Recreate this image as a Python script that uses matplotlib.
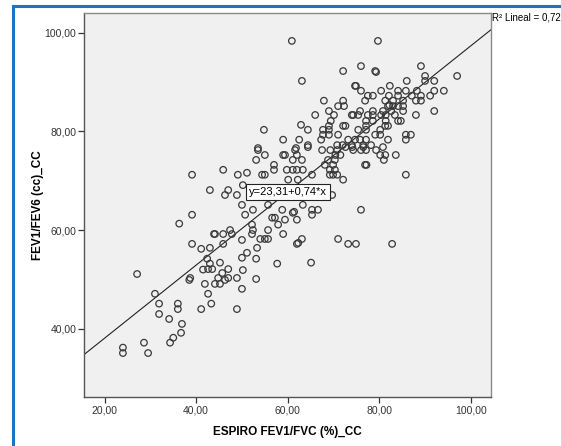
import matplotlib
matplotlib.use("Agg")
import matplotlib.pyplot as plt
from matplotlib.lines import Line2D

plt.rcParams['font.family'] = ['Liberation Sans', 'DejaVu Sans']

# datos (ESPIRO FEV1/FVC, FEV1/FEV6)
espiro_x = [
    60.9, 72.1, 63.1, 74.7, 67.9, 72.1, 71.0, 72.3, 69.0, 70.1, 66.0, 74.0, 69.4, 62.9, 64.4, 54.8,
    69.0, 72.1, 72.6, 67.7, 69.0, 67.7, 69.0, 71.0, 59.0, 62.5, 64.4, 67.3, 70.8, 72.0, 74.0, 73.2,
    53.5, 61.8,
    79.7, 76.0, 79.1, 79.3, 89.1, 97.0, 90.0, 90.0, 92.0, 86.0, 74.9, 82.3,
    76.0, 80.4, 84.1, 85.8, 88.2, 92.0, 94.1,
    77.5, 78.6, 82.1, 84.1, 87.1, 89.1, 91.1,
    76.9, 81.3, 83.0, 85.2, 88.0, 89.1,
    81.9, 83.0, 84.1, 85.2, 82.2,
    75.8, 78.6, 80.8, 82.6, 85.2, 92.0, 88.0,
    74.3, 75.4, 77.5, 78.6, 80.4, 81.4, 83.4,
    77.1, 78.6, 81.4, 84.1, 84.7,
    77.1, 81.3, 81.9,
    75.4, 77.1, 80.2,
    79.1, 80.2, 85.8, 86.9, 85.8,
    74.7, 75.8, 77.1, 81.9,
    76.5, 78.2,
    74.3, 76.0, 77.1, 79.3, 76.5, 80.8, 80.2, 81.3, 83.6, 81.0, 76.9, 77.2, 85.8, 76.0, 74.9, 82.8,
    53.5, 55.0, 53.1, 59.0, 59.4, 61.6, 62.0, 64.4, 63.1, 61.1, 67.5, 69.3, 70.8, 72.6, 74.1, 71.5,
    70.4, 68.8, 70.3, 68.1, 69.2, 69.9, 70.3, 70.8, 69.2, 69.9, 72.1, 45.9, 49.1, 51.1, 54.4, 55.0,
    57.0, 57.0, 59.8, 61.1, 62.0, 63.3, 60.1, 62.2, 65.3, 47.0, 50.2, 46.3, 48.9, 69.7, 50.0, 52.4,
    55.7, 63.3, 65.3, 66.6, 58.8, 61.1, 61.4, 50.7, 56.6, 57.2, 59.4, 62.0, 65.3, 52.2, 57.9, 47.4,
    52.4, 55.7, 44.1, 45.9, 47.8, 52.2, 50.0, 59.0, 54.0, 55.0, 55.7, 45.9, 62.0, 62.3, 63.1, 71.0,
    73.2, 53.3, 51.1, 50.0, 53.1, 45.2, 47.0, 57.7, 65.1, 50.2, 45.7, 47.0, 44.8, 48.9,
    39.1, 43.0, 39.1, 36.3, 43.9, 39.1, 41.1, 43.0, 42.4, 43.0, 41.5, 42.6, 43.5, 27.1, 38.7,
    38.5, 41.9, 44.1, 31.0, 42.6, 31.9, 36.0, 36.0, 43.3, 41.1, 31.9, 34.1, 36.9, 35.0, 34.3, 36.7,
    28.6, 24.0, 24.0, 29.5,
    45.2, 46.3, 53.1, 50.0, 48.9,
]
fev_y = [
    98.3, 92.2, 90.2, 89.2, 86.2, 86.2, 85.1, 85.1, 84.1, 83.3, 83.3, 83.3, 82.1, 81.3, 80.3, 80.3,
    81.1, 81.1, 81.1, 80.3, 80.3, 79.3, 79.3, 79.3, 78.3, 78.3, 77.2, 78.3, 77.2, 77.2, 77.2, 78.3,
    76.6, 76.6,
    98.3, 93.2, 92.2, 92.0, 93.2, 91.2, 91.2, 90.2, 90.2, 90.2, 89.2, 89.2,
    88.2, 88.2, 88.2, 88.2, 88.2, 88.2, 88.2,
    87.2, 87.2, 87.2, 87.2, 87.2, 87.2, 87.2,
    86.2, 86.2, 86.2, 86.2, 86.2, 86.2,
    85.1, 85.1, 85.1, 85.1, 85.3,
    84.1, 84.1, 84.1, 84.1, 84.1, 84.1, 83.3,
    83.3, 83.3, 83.3, 83.3, 83.3, 83.3, 83.3,
    82.1, 82.1, 82.1, 82.1, 82.1,
    81.1, 81.1, 81.1,
    80.3, 80.3, 80.3,
    79.3, 79.3, 79.3, 79.3, 78.3,
    78.3, 78.3, 78.3, 78.3,
    77.2, 77.2,
    76.2, 76.2, 76.2, 76.2, 76.8, 76.8, 75.2, 75.2, 75.2, 74.2, 73.2, 73.2, 71.2, 64.1, 57.2, 57.2,
    76.2, 75.2, 74.2, 75.2, 75.2, 76.2, 75.2, 76.8, 74.2, 74.2, 76.2, 76.2, 76.2, 76.8, 76.8, 75.2,
    75.2, 74.2, 74.2, 73.2, 72.2, 73.2, 72.2, 71.2, 71.2, 71.2, 70.2, 72.2, 71.2, 71.6, 71.2, 71.2,
    73.2, 72.2, 72.2, 72.2, 72.2, 72.2, 70.2, 70.2, 71.2, 68.1, 69.1, 67.1, 67.1, 67.1, 65.1, 64.1,
    65.1, 65.1, 64.1, 64.1, 64.1, 63.5, 63.7, 63.1, 62.5, 62.5, 62.1, 62.1, 63.1, 61.1, 61.1, 60.0,
    60.0, 60.0, 59.2, 59.2, 59.2, 59.2, 58.0, 59.2, 58.2, 58.2, 58.2, 57.2, 57.2, 57.4, 58.2, 58.2,
    57.2, 56.4, 55.4, 54.4, 54.2, 53.4, 52.1, 53.2, 53.4, 51.9, 51.3, 50.3, 50.3, 50.3,
    71.2, 68.1, 63.1, 61.3, 59.2, 57.2, 56.2, 56.4, 54.2, 53.2, 52.0, 52.1, 52.1, 51.1, 50.3,
    49.9, 49.1, 49.1, 47.1, 47.1, 45.1, 45.1, 44.0, 45.1, 44.0, 43.0, 42.0, 41.0, 38.2, 37.2, 39.2,
    37.2, 36.2, 35.1, 35.1,
    49.1, 49.9, 50.1, 48.1, 44.0,
]

intercept = 23.31
slope = 0.74
r2_text = "R² Lineal = 0,72"
eq_text = "y=23,31+0,74*x"
x_ticks = [20, 40, 60, 80, 100]
y_ticks = [40, 60, 80, 100]

fig = plt.figure(figsize=(5.61, 4.46), dpi=100)
ax = fig.add_axes([84 / 561, 49 / 446, 407 / 561, 384 / 446])
ax.set_facecolor('#f0f0f0')

ax.scatter(espiro_x, fev_y, s=22, facecolors='none', edgecolors='#383838', linewidths=0.9, zorder=3)

xlim = (15.5, 104.4)
ylim = (26.2, 103.95)
ax.plot(xlim, [intercept + slope * v for v in xlim], color='#222222', lw=0.8, zorder=2)
ax.set_xlim(xlim)
ax.set_ylim(ylim)

ax.text(60, intercept + slope * 60, eq_text, ha='center', va='center', fontsize=8, zorder=4,
        bbox=dict(boxstyle='square,pad=0.25', facecolor='white', edgecolor='#222222', lw=0.8))

ax.set_xticks(x_ticks)
ax.set_yticks(y_ticks)
ax.set_xticklabels([f"{v},00" for v in x_ticks])
ax.set_yticklabels([f"{v},00" for v in y_ticks])
ax.tick_params(direction='out', length=4.5, width=0.9, colors='#333333', labelsize=7.5, pad=1.5)
ax.tick_params(axis='y', pad=1)

for side in ['left', 'bottom']:
    ax.spines[side].set_color('#555555')
    ax.spines[side].set_linewidth(1.0)
for side in ['top', 'right']:
    ax.spines[side].set_color('#8a8a8a')
    ax.spines[side].set_linewidth(1.0)

ax.set_xlabel("ESPIRO FEV1/FVC (%)_CC", fontsize=8.5, fontweight='bold', labelpad=8)
ax.set_ylabel("FEV1/FEV6 (cc)_CC", fontsize=8.5, fontweight='bold', labelpad=0.5)

fig.text(492 / 561, 1 - 17 / 446, r2_text, ha='left', va='center', fontsize=7)

# marco azul de seleccion
blue = '#1b74c5'
fig.add_artist(Line2D([13 / 561, 13 / 561], [0, 1 - 6 / 446], color=blue, lw=2.2))
fig.add_artist(Line2D([13 / 561, 1], [1 - 6 / 446, 1 - 6 / 446], color=blue, lw=2.2))

fig.savefig("out.png", dpi=100)
